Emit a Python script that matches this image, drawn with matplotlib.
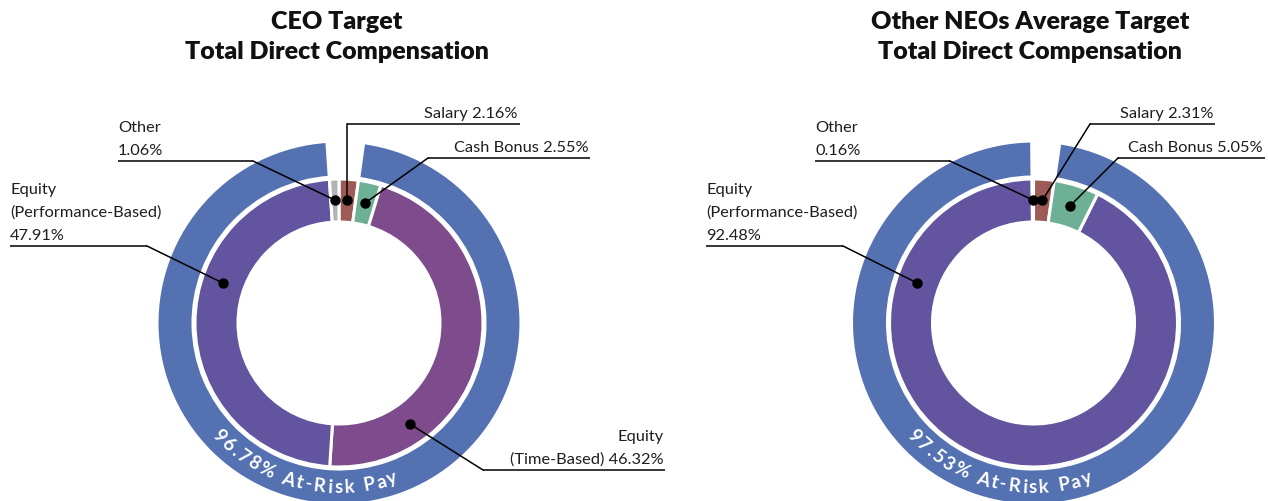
import matplotlib
matplotlib.use("Agg")
import matplotlib.pyplot as plt
import numpy as np
from matplotlib.font_manager import FontProperties
from matplotlib.textpath import TextToPath

# ---------------- data ----------------
ceo_categories = ["Salary", "Cash Bonus", "Equity (Time-Based)", "Equity (Performance-Based)", "Other"]
ceo_values = [2.16, 2.55, 46.32, 47.91, 1.06]

neo_categories = ["Salary", "Cash Bonus", "Equity (Performance-Based)", "Other"]
neo_values = [2.31, 5.05, 92.48, 0.16]

ceo_title = ["CEO Target", "Total Direct Compensation"]
neo_title = ["Other NEOs Average Target", "Total Direct Compensation"]

colors = {
    "Salary": "#9E5A57",
    "Cash Bonus": "#6EB096",
    "Equity (Time-Based)": "#7E4C8C",
    "Equity (Performance-Based)": "#62549E",
    "Other": "#B3B3B5",
}
ring_color = "#5471B2"

# ---------------- layout ----------------
W, H = 1268, 501
fig = plt.figure(figsize=(W / 100, H / 100), dpi=100)
ax = fig.add_axes([0, 0, 1, 1])

FONT = "Lato"
TXT = "#1E1E1E"
R_OUT, W_OUT = 182, 36
R_IN, W_IN = 144, 43
R_DOT = 123


def Y(yp):
    return H - yp


def arc_text(s, cx, cy, r_base, theta_c, fs, spacing):
    fp = FontProperties(family=FONT, weight="bold", size=fs)
    t2p = TextToPath()
    k = 100 / 72
    widths = []
    for ch in s:
        if ch == " ":
            widths.append(0.30 * fs * k)
        else:
            w, h, d = t2p.get_text_width_height_descent(ch, fp, ismath=False)
            widths.append(w * k)
    total = sum(widths) + spacing * (len(s) - 1)
    start = np.radians(theta_c) - total / (2 * r_base)
    pos = 0.0
    for ch, w in zip(s, widths):
        th = start + (pos + w / 2) / r_base
        x = cx + r_base * np.cos(th)
        y = cy + r_base * np.sin(th)
        ax.text(x, y, ch, fontproperties=fp, color="white", ha="center", va="baseline",
                rotation=np.degrees(th) + 90, rotation_mode="anchor")
        pos += w + spacing


def label(lines, x, uy, ha, x0, x1, elbow, dot):
    n = len(lines)
    for i, ln in enumerate(lines):
        base = uy - 6 - (n - 1 - i) * 23
        ax.text(x, Y(base), ln, family=FONT, fontsize=11.8, color=TXT, ha=ha, va="baseline")
    ax.plot([x0, x1], [Y(uy), Y(uy)], color="black", lw=1.1, solid_capstyle="butt")
    ax.plot([elbow[0], dot[0]], [Y(elbow[1]), dot[1]], color="black", lw=1.1)
    ax.plot(dot[0], dot[1], "o", color="black", ms=6.5)


def donut(cats, vals, cx, cyp, title, title_x):
    cy = Y(cyp)
    wedges, _ = ax.pie(vals, radius=R_IN, center=(cx, cy), startangle=90, counterclock=False,
                       colors=[colors[c] for c in cats],
                       wedgeprops=dict(width=W_IN, edgecolor="white", linewidth=2.2))
    salary = vals[cats.index("Salary")]
    other = vals[cats.index("Other")]
    at_risk = sum(v for c, v in zip(cats, vals) if c not in ("Salary", "Other"))
    ow, _ = ax.pie([salary, at_risk, other], radius=R_OUT, center=(cx, cy), startangle=90,
                   counterclock=False, colors=["white", ring_color, "white"],
                   wedgeprops=dict(width=W_OUT, edgecolor="white", linewidth=2.2))
    ow[0].set_visible(False)
    ow[2].set_visible(False)
    arc_text(f"{at_risk:.2f}% At-Risk Pay", cx, cy, 170, -104, 13.5, 2.2)
    for i, ln in enumerate(title):
        ax.text(title_x, Y(22 + 30 * i), ln, family=FONT, weight="heavy", fontsize=18,
                color="#111111", ha="center", va="center")

    def dot_at(cat, ang=None):
        w = wedges[cats.index(cat)]
        a = (w.theta1 + w.theta2) / 2 if ang is None else ang
        a = np.radians(a)
        return (cx + R_DOT * np.cos(a), cy + R_DOT * np.sin(a))

    return dot_at


# ---- CEO ----
cx1 = 339
d1 = donut(ceo_categories, ceo_values, cx1, 323, ceo_title, 337)
v = dict(zip(ceo_categories, ceo_values))
p = d1("Salary")
label([f"Salary {v['Salary']:.2f}%"], 518, 124, "right", p[0], 520, (p[0], 124), p)
label([f"Cash Bonus {v['Cash Bonus']:.2f}%"], 589, 158, "right", 428, 590, (428, 158), d1("Cash Bonus"))
label(["Other", f"{v['Other']:.2f}%"], 118, 161, "left", 118, 253, (253, 161), d1("Other"))
label(["Equity", "(Performance-Based)", f"{v['Equity (Performance-Based)']:.2f}%"], 10, 246, "left",
      10, 147, (147, 246), d1("Equity (Performance-Based)", 161))
label(["Equity", f"(Time-Based) {v['Equity (Time-Based)']:.2f}%"], 664, 470, "right",
      483, 665, (483, 470), d1("Equity (Time-Based)", -55))

# ---- Other NEOs ----
cx2 = 1033.5
d2 = donut(neo_categories, neo_values, cx2, 323, neo_title, 1030)
v = dict(zip(neo_categories, neo_values))
label([f"Salary {v['Salary']:.2f}%"], 1213, 124, "right", 1090, 1215, (1090, 124), d2("Salary"))
label([f"Cash Bonus {v['Cash Bonus']:.2f}%"], 1263, 158, "right", 1118, 1265, (1118, 158), d2("Cash Bonus"))
label(["Other", f"{v['Other']:.2f}%"], 815, 161, "left", 815, 950, (950, 161), d2("Other"))
label(["Equity", "(Performance-Based)", f"{v['Equity (Performance-Based)']:.2f}%"], 706, 246, "left",
      706, 843, (843, 246), d2("Equity (Performance-Based)", 161))

ax.set_xlim(0, W)
ax.set_ylim(0, H)
ax.set_aspect("equal")
ax.axis("off")
fig.savefig("out.png", dpi=100, facecolor="white")
